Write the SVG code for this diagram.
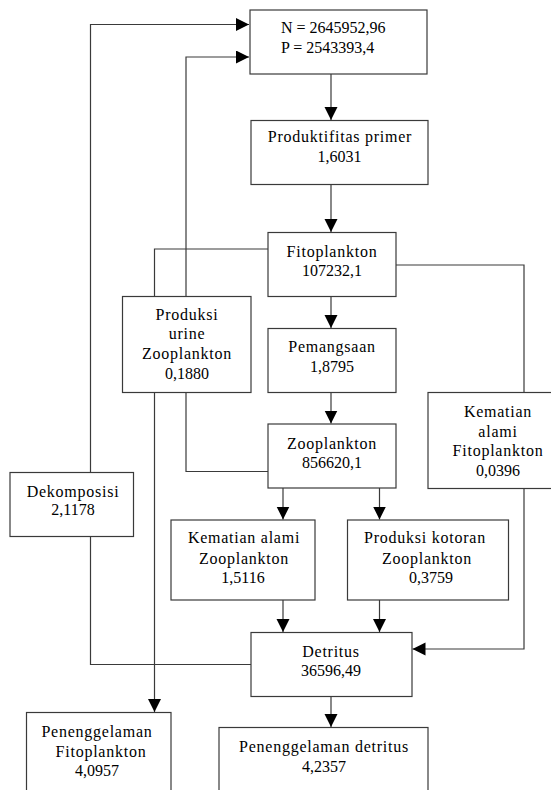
<svg xmlns="http://www.w3.org/2000/svg" width="551" height="790" viewBox="0 0 551 790">
<style>
.box{fill:#fff;stroke:#3a3a3a;stroke-width:1.2}
.ln{fill:none;stroke:#3a3a3a;stroke-width:1.2}
text{font-family:'Liberation Serif','Times New Roman',serif;font-size:16px;fill:#000;text-anchor:middle}
.l{text-anchor:start}
.w{letter-spacing:0.75px}
</style>
<defs>
<marker id="ah" markerUnits="userSpaceOnUse" markerWidth="14" markerHeight="14" refX="13" refY="6.5" orient="auto">
<path d="M0,0 L13,6.5 L0,13 z" fill="#000"/>
</marker>
</defs>
<rect width="551" height="790" fill="#fff"/>
<g id="connectors">
<polyline class="ln" points="251,664.5 90.5,664.5 90.5,536.5"/>
<polyline class="ln" points="90.5,472.5 90.5,24.5 249,24.5" marker-end="url(#ah)"/>
<polyline class="ln" points="268,471.5 186,471.5 186,392.5"/>
<polyline class="ln" points="186,296.5 186,57 249,57" marker-end="url(#ah)"/>
<polyline class="ln" points="268,249 154.5,249 154.5,296.5"/>
<polyline class="ln" points="154.5,392.5 154.5,712" marker-end="url(#ah)"/>
<polyline class="ln" points="396,265 524,265 524,392.5"/>
<polyline class="ln" points="524,488.5 524,649 412.5,649" marker-end="url(#ah)"/>
<line class="ln" x1="331" y1="74" x2="331" y2="120" marker-end="url(#ah)"/>
<line class="ln" x1="331" y1="184.5" x2="331" y2="232" marker-end="url(#ah)"/>
<line class="ln" x1="331" y1="296.5" x2="331" y2="328" marker-end="url(#ah)"/>
<line class="ln" x1="331" y1="392.5" x2="331" y2="423.5" marker-end="url(#ah)"/>
<line class="ln" x1="283" y1="488" x2="283" y2="519.5" marker-end="url(#ah)"/>
<line class="ln" x1="379.5" y1="488" x2="379.5" y2="519.5" marker-end="url(#ah)"/>
<line class="ln" x1="283" y1="600" x2="283" y2="632" marker-end="url(#ah)"/>
<line class="ln" x1="379.5" y1="600" x2="379.5" y2="632" marker-end="url(#ah)"/>
<line class="ln" x1="331" y1="696.5" x2="331" y2="727" marker-end="url(#ah)"/>
</g>
<g id="np">
<rect class="box" x="250" y="10" width="177" height="64"/>
<text class="l" x="281" y="33">N = 2645952,96</text>
<text class="l" x="281" y="53">P = 2543393,4</text>
</g>
<g id="produktifitas">
<rect class="box" x="251" y="120.5" width="177" height="64"/>
<text class="w" x="340" y="142">Produktifitas primer</text>
<text x="339.5" y="162">1,6031</text>
</g>
<g id="fitoplankton">
<rect class="box" x="268" y="232.5" width="128" height="64"/>
<text class="w" x="332" y="256.5">Fitoplankton</text>
<text x="332" y="276">107232,1</text>
</g>
<g id="urine">
<rect class="box" x="122.5" y="296.5" width="128.5" height="96"/>
<text class="w" x="187" y="320">Produksi</text>
<text class="w" x="187" y="339">urine</text>
<text class="w" x="187" y="359">Zooplankton</text>
<text x="187" y="379">0,1880</text>
</g>
<g id="pemangsaan">
<rect class="box" x="268" y="328.5" width="128" height="64"/>
<text class="w" x="332" y="351.5">Pemangsaan</text>
<text x="332" y="371.5">1,8795</text>
</g>
<g id="kematianFito">
<rect class="box" x="428" y="392.5" width="140" height="96"/>
<text class="w" x="498" y="417">Kematian</text>
<text class="w" x="498" y="437">alami</text>
<text class="w" x="498" y="456">Fitoplankton</text>
<text x="498" y="476">0,0396</text>
</g>
<g id="zooplankton">
<rect class="box" x="268" y="424" width="128" height="64"/>
<text class="w" x="332" y="449">Zooplankton</text>
<text x="332" y="468">856620,1</text>
</g>
<g id="dekomposisi">
<rect class="box" x="10" y="472.5" width="123.5" height="64"/>
<text class="w" x="73" y="496.5">Dekomposisi</text>
<text x="73" y="515">2,1178</text>
</g>
<g id="kematianZoo">
<rect class="box" x="171" y="520" width="144" height="80"/>
<text class="w" x="244" y="543">Kematian alami</text>
<text class="w" x="244" y="564">Zooplankton</text>
<text x="243" y="583">1,5116</text>
</g>
<g id="kotoran">
<rect class="box" x="347.5" y="520" width="161" height="80"/>
<text class="w" x="425" y="543">Produksi kotoran</text>
<text class="w" x="427" y="564">Zooplankton</text>
<text x="431" y="583">0,3759</text>
</g>
<g id="detritus">
<rect class="box" x="251" y="632.5" width="161" height="64"/>
<text class="w" x="331" y="656.5">Detritus</text>
<text x="331" y="676">36596,49</text>
</g>
<g id="penFito">
<rect class="box" x="26.5" y="712.5" width="144.5" height="90"/>
<text class="w" x="97" y="736.5">Penenggelaman</text>
<text class="w" x="101" y="756.5">Fitoplankton</text>
<text x="97" y="776">4,0957</text>
</g>
<g id="penDetritus">
<rect class="box" x="219" y="727.5" width="209" height="80"/>
<text class="w" x="324" y="751.5">Penenggelaman detritus</text>
<text x="324" y="771.5">4,2357</text>
</g>
</svg>
